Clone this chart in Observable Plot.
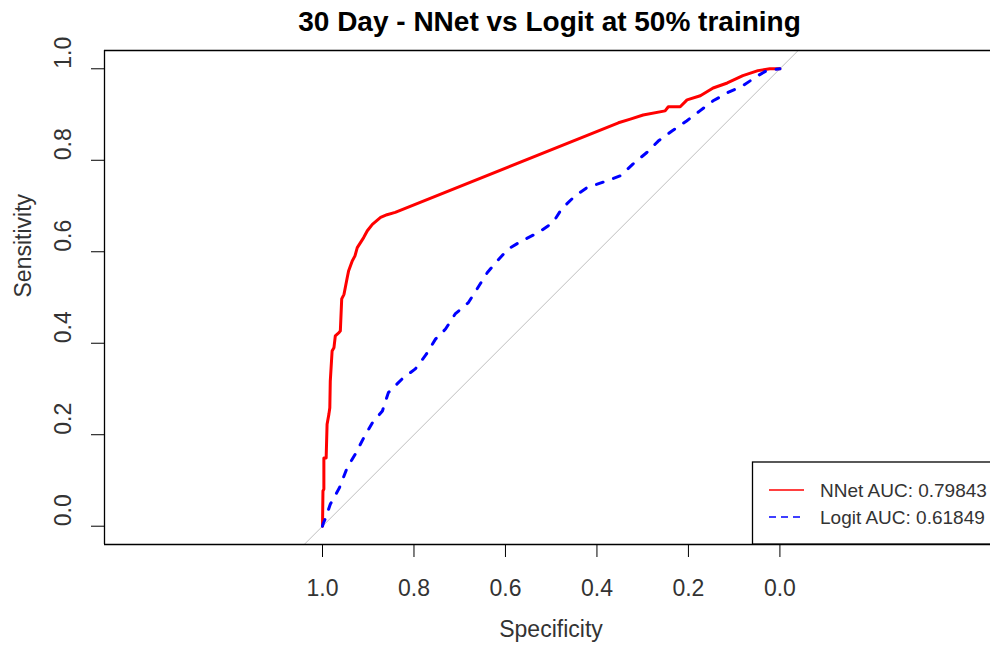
<!DOCTYPE html>
<html><head><meta charset="utf-8">
<script src="https://cdn.jsdelivr.net/npm/d3@7"></script>
<script src="https://cdn.jsdelivr.net/npm/@observablehq/plot@0.6"></script>
<style>
html,body{margin:0;padding:0;background:#fff;overflow:hidden}
#chart{position:relative;width:990px;height:649px}
</style>
</head><body><div id="chart"></div>
<script>
const title = "30 Day - NNet vs Logit at 50% training";
const xLabel = "Specificity";
const yLabel = "Sensitivity";

const nnetSpecificity = [1.000,0.999,0.997,0.997,0.992,0.990,0.986,0.984,0.983,0.979,0.975,0.972,0.964,0.961,0.958,0.953,0.946,0.943,0.935,0.929,0.924,0.917,0.910,0.902,0.891,0.873,0.859,0.841,0.353,0.327,0.299,0.251,0.244,0.218,0.203,0.174,0.146,0.115,0.081,0.048,0.022,0.000];
const nnetSensitivity = [0.000,0.077,0.081,0.149,0.149,0.223,0.245,0.259,0.317,0.383,0.390,0.416,0.423,0.427,0.497,0.507,0.543,0.558,0.580,0.591,0.609,0.620,0.631,0.646,0.660,0.675,0.681,0.686,0.882,0.890,0.899,0.908,0.917,0.917,0.932,0.941,0.958,0.969,0.985,0.996,1.000,1.000];

const logitSpecificity = [1.000,0.998,0.993,0.983,0.963,0.946,0.928,0.910,0.891,0.869,0.856,0.826,0.797,0.773,0.753,0.731,0.710,0.681,0.662,0.640,0.618,0.594,0.564,0.528,0.496,0.477,0.448,0.422,0.378,0.349,0.321,0.291,0.266,0.236,0.204,0.175,0.146,0.114,0.081,0.048,0.029,0.000];
const logitSensitivity = [0.000,0.007,0.018,0.048,0.084,0.128,0.158,0.193,0.226,0.252,0.292,0.322,0.344,0.376,0.409,0.431,0.464,0.489,0.519,0.554,0.580,0.606,0.624,0.642,0.664,0.694,0.722,0.740,0.755,0.766,0.792,0.817,0.842,0.864,0.886,0.908,0.930,0.948,0.963,0.985,0.996,1.000];

const chanceSpecificity = [1.04, -0.04];
const chanceSensitivity = [-0.04, 1.04];

const tickValues = [0, 0.2, 0.4, 0.6, 0.8, 1];
const tickLabels = ["0.0", "0.2", "0.4", "0.6", "0.8", "1.0"];
const legendLabels = ["NNet AUC: 0.79843", "Logit AUC: 0.61849"];
const seriesColors = ["#ff0000", "#0000ff"];
const xDomain = [1.4766, -0.4604];
const yDomain = [-0.04, 1.04];

const toRows = (xs, ys) => xs.map((s, i) => ({spec: s, sens: ys[i]}));
const fmt = d => tickLabels[tickValues.indexOf(d)];
const font = "'Liberation Sans', Arial, sans-serif";
const textColor = "#333";

const chart = Plot.plot({
  width: 990, height: 649,
  marginLeft: 104, marginRight: 0, marginTop: 50, marginBottom: 105,
  style: {fontFamily: font, fontSize: "23px", background: "white", color: "black"},
  x: {domain: xDomain, ticks: tickValues, tickSize: 13, tickPadding: 22, tickFormat: fmt, label: null},
  y: {domain: yDomain, ticks: tickValues, tickSize: 13, tickFormat: () => "", label: null},
  marks: [
    Plot.line(toRows(chanceSpecificity, chanceSensitivity), {x: "spec", y: "sens", stroke: "#bebebe", strokeWidth: 1}),
    Plot.line(toRows(nnetSpecificity, nnetSensitivity), {x: "spec", y: "sens", stroke: seriesColors[0], strokeWidth: 3, strokeLinejoin: "round", strokeLinecap: "round"}),
    Plot.line(toRows(logitSpecificity, logitSensitivity), {x: "spec", y: "sens", stroke: seriesColors[1], strokeWidth: 3, strokeLinejoin: "round", strokeLinecap: "round", strokeDasharray: "7,11"}),
    Plot.ruleX([xDomain[0]], {stroke: "black", strokeWidth: 1.3}),
    Plot.ruleY(yDomain, {stroke: "black", strokeWidth: 1.3}),
    Plot.text(tickValues, {y: d => d, text: fmt, frameAnchor: "left", rotate: -90, dx: -41, fontSize: 23, fill: textColor}),
    Plot.text([title], {text: d => d, frameAnchor: "top", dx: 2, dy: -39, fontSize: 28, fontWeight: "bold", fill: "black"}),
    Plot.text([xLabel], {text: d => d, frameAnchor: "bottom", dx: 3.5, dy: 92, fontSize: 23, fill: textColor}),
    Plot.text([yLabel], {text: d => d, frameAnchor: "left", dx: -81, rotate: -90, fontSize: 23, fill: textColor})
  ]
});
document.getElementById("chart").appendChild(chart);
d3.select(chart).selectAll("[aria-label^='x-axis'] text, [aria-label='x-axis tick label'] text").attr("fill", textColor);

// legend
const svg = d3.select(chart);
const lg = svg.append("g").attr("font-family", font).attr("font-size", 19);
lg.append("rect").attr("x", 752.5).attr("y", 462).attr("width", 300).attr("height", 82)
  .attr("fill", "white").attr("stroke", "black").attr("stroke-width", 1.3);
const rowY = [490, 517];
legendLabels.forEach((lab, i) => {
  lg.append("line").attr("x1", 769).attr("x2", 804).attr("y1", rowY[i]).attr("y2", rowY[i])
    .attr("stroke", seriesColors[i]).attr("stroke-width", 1.7)
    .attr("stroke-dasharray", i === 1 ? "7,5" : null);
  lg.append("text").attr("x", 820).attr("y", rowY[i] + 7).attr("fill", textColor).attr("text-anchor", "start").text(lab);
});
</script>
</body></html>
